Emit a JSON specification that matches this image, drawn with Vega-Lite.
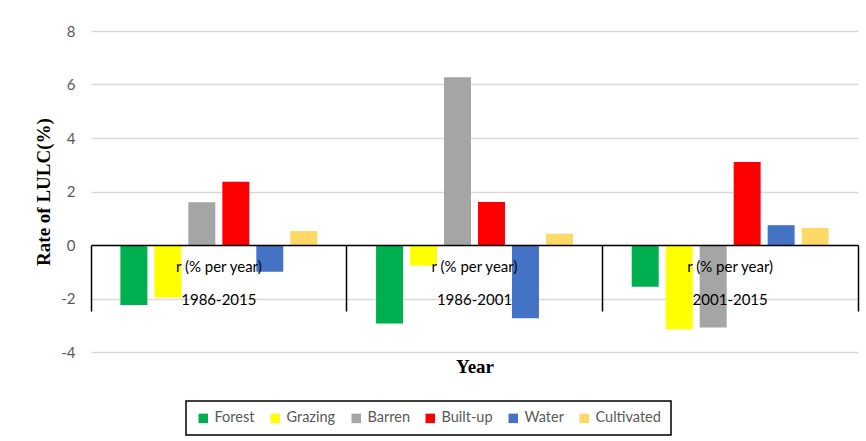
{
  "$schema": "https://vega.github.io/schema/vega-lite/v6.json",
  "width": 767,
  "height": 321,
  "autosize": {"type": "none"},
  "padding": {"left": 91, "top": 31, "right": 8, "bottom": 89},
  "background": "white",
  "data": {
    "values": [
      {"period": "1986-2015", "landuse": "Forest", "rate": -2.24},
      {"period": "1986-2015", "landuse": "Grazing", "rate": -1.96},
      {"period": "1986-2015", "landuse": "Barren", "rate": 1.6},
      {"period": "1986-2015", "landuse": "Built-up", "rate": 2.36},
      {"period": "1986-2015", "landuse": "Water", "rate": -1.0},
      {"period": "1986-2015", "landuse": "Cultivated", "rate": 0.52},
      {"period": "1986-2001", "landuse": "Forest", "rate": -2.93},
      {"period": "1986-2001", "landuse": "Grazing", "rate": -0.77},
      {"period": "1986-2001", "landuse": "Barren", "rate": 6.27},
      {"period": "1986-2001", "landuse": "Built-up", "rate": 1.61},
      {"period": "1986-2001", "landuse": "Water", "rate": -2.74},
      {"period": "1986-2001", "landuse": "Cultivated", "rate": 0.42},
      {"period": "2001-2015", "landuse": "Forest", "rate": -1.56},
      {"period": "2001-2015", "landuse": "Grazing", "rate": -3.15},
      {"period": "2001-2015", "landuse": "Barren", "rate": -3.08},
      {"period": "2001-2015", "landuse": "Built-up", "rate": 3.1},
      {"period": "2001-2015", "landuse": "Water", "rate": 0.74},
      {"period": "2001-2015", "landuse": "Cultivated", "rate": 0.64}
    ]
  },
  "mark": {"type": "bar"},
  "encoding": {
    "x": {
      "field": "period",
      "type": "nominal",
      "sort": ["1986-2015", "1986-2001", "2001-2015"],
      "scale": {"paddingInner": 0, "paddingOuter": 0},
      "axis": {
        "orient": "bottom",
        "offset": -107,
        "domainColor": "black",
        "domainWidth": 1.5,
        "ticks": true,
        "tickColor": "black",
        "tickWidth": 1.5,
        "tickSize": 66,
        "bandPosition": 1,
        "tickExtra": true,
        "labelExpr": "datum.label ? ['r (% per year)', datum.label] : ''",
        "labelFont": "Lato",
        "labelFontSize": 15,
        "labelColor": "black",
        "labelPadding": -52,
        "labelLineHeight": 33,
        "labelAngle": 0,
        "title": "Year",
        "titleFont": "Liberation Serif",
        "titleFontWeight": "bold",
        "titleFontSize": 19,
        "titleColor": "black",
        "titlePadding": 46,
        "grid": false,
        "zindex": 1
      }
    },
    "xOffset": {
      "field": "landuse",
      "type": "nominal",
      "sort": ["Forest", "Grazing", "Barren", "Built-up", "Water", "Cultivated"],
      "scale": {"paddingInner": 0.206, "paddingOuter": 0.865}
    },
    "y": {
      "field": "rate",
      "type": "quantitative",
      "scale": {"domain": [-4, 8], "nice": false},
      "axis": {
        "values": [-4, -2, 0, 2, 4, 6, 8],
        "labelExpr": "'' + datum.value",
        "grid": true,
        "gridColor": "#d9d9d9",
        "gridWidth": 1.3,
        "domain": false,
        "ticks": false,
        "labelPadding": 16,
        "labelFont": "Lato",
        "labelFontSize": 15,
        "labelColor": "#595959",
        "title": "Rate of LULC(%)",
        "titleFont": "Liberation Serif",
        "titleFontWeight": "bold",
        "titleFontSize": 19,
        "titleColor": "black",
        "titlePadding": 7
      }
    },
    "color": {
      "field": "landuse",
      "type": "nominal",
      "sort": ["Forest", "Grazing", "Barren", "Built-up", "Water", "Cultivated"],
      "scale": {
        "domain": ["Forest", "Grazing", "Barren", "Built-up", "Water", "Cultivated"],
        "range": ["#00b050", "#ffff00", "#a5a5a5", "#ff0000", "#4472c4", "#ffd966"]
      },
      "legend": {
        "title": null,
        "orient": "none",
        "legendX": 95,
        "legendY": 370,
        "direction": "horizontal",
        "columns": 6,
        "columnPadding": 13,
        "symbolType": "square",
        "symbolSize": 90,
        "symbolStrokeWidth": 0,
        "labelFont": "Lato",
        "labelFontSize": 14.5,
        "labelColor": "#595959",
        "labelOffset": 4,
        "strokeColor": "black",
        "padding": 10,
        "encode": {"legend": {"update": {"strokeWidth": {"value": 1.5}}}}
      }
    }
  },
  "config": {"view": {"stroke": null}}
}
